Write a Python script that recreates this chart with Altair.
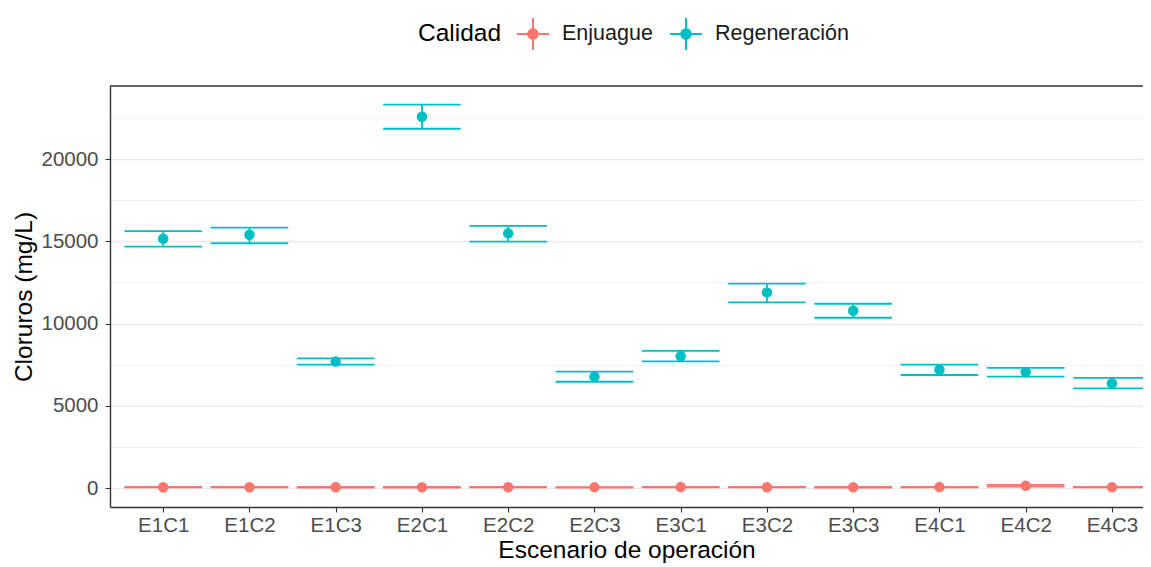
import altair as alt
import pandas as pd

escenarios = ["E1C1", "E1C2", "E1C3", "E2C1", "E2C2", "E2C3",
              "E3C1", "E3C2", "E3C3", "E4C1", "E4C2", "E4C3"]

reg_mean = [15150, 15400, 7690, 22570, 15480, 6770, 8010, 11890, 10780, 7190, 7050, 6360]
reg_low = [14670, 14880, 7500, 21840, 14980, 6460, 7700, 11290, 10350, 6870, 6770, 6060]
reg_high = [15620, 15830, 7880, 23300, 15930, 7070, 8330, 12420, 11200, 7500, 7300, 6690]

enj_mean = [50, 50, 45, 45, 50, 40, 55, 50, 45, 55, 140, 50]
enj_low = [35, 35, 30, 30, 35, 25, 40, 35, 30, 40, 90, 35]
enj_high = [65, 65, 60, 60, 65, 55, 70, 65, 60, 70, 190, 65]

calidades = ["Enjuague", "Regeneración"]
colores = ["#F8766D", "#00BFC4"]

y_ticks = [0, 2500, 5000, 7500, 10000, 12500, 15000, 17500, 20000, 22500]

rows = []
for i, e in enumerate(escenarios):
    rows.append({"Escenario": e, "Calidad": "Enjuague", "media": enj_mean[i],
                 "low": enj_low[i], "high": enj_high[i]})
    rows.append({"Escenario": e, "Calidad": "Regeneración", "media": reg_mean[i],
                 "low": reg_low[i], "high": reg_high[i]})
df = pd.DataFrame(rows)

FONT = "Liberation Sans"
W, H = 1033, 421
legend_symbol = ("M-1,-0.0625H1V0.0625H-1Z M-0.0625,-1H0.0625V1H-0.0625Z "
                 "M0.36,0A0.36,0.36,0,1,1,-0.36,0A0.36,0.36,0,1,1,0.36,0Z")

x_enc = alt.X("Escenario:N", sort=escenarios,
              scale=alt.Scale(type="point", padding=0.4884, align=0.6315),
              axis=alt.Axis(title="Escenario de operación", labelAngle=0,
                            domain=True, domainColor="#333333", domainWidth=1.4,
                            tickColor="#333333", tickSize=5,
                            tickWidth=1.1, labelPadding=3, titleY=50,
                            titleBaseline="alphabetic",
                            gridColor="#EBEBEB", gridWidth=1.4))
y_scale = alt.Scale(domain=[-1155, 24438], nice=False, zero=False)
color_enc = alt.Color("Calidad:N", scale=alt.Scale(domain=calidades, range=colores),
                      legend=alt.Legend(orient="none", legendX=308, legendY=-68,
                                        direction="horizontal", titleOrient="left",
                                        title="Calidad", symbolType=legend_symbol,
                                        symbolSize=1024, symbolStrokeWidth=0,
                                        symbolOpacity=1, labelOffset=13,
                                        columnPadding=17, titlePadding=15,
                                        titleFontSize=24.5, labelFontSize=21.5,
                                        titleFontWeight="normal",
                                        titleFont=FONT, labelFont=FONT,
                                        titleColor="#000000", labelColor="#1A1A1A",
                                        titleBaseline="middle", titleAnchor="middle"))

base = alt.Chart(df)

points = base.mark_point(filled=True, size=110, opacity=1).encode(
    x=x_enc,
    y=alt.Y("media:Q", scale=y_scale,
            axis=alt.Axis(title="Cloruros (mg/L)", values=y_ticks,
                          domain=True, domainColor="#333333", domainWidth=1.4,
                          labelExpr="datum.value % 5000 === 0 ? datum.label : ''",
                          format="d",
                          tickColor="#333333", tickSize=5,
                          tickWidth={"condition": {"test": "datum.value % 5000 === 0", "value": 1.1}, "value": 0},
                          gridColor={"condition": {"test": "datum.value % 5000 === 0", "value": "#EBEBEB"}, "value": "#F2F2F2"},
                          gridWidth={"condition": {"test": "datum.value % 5000 === 0", "value": 1.5}, "value": 1.2},
                          labelPadding=7, titlePadding=4)),
    color=color_enc,
)

whisker = base.mark_rule(strokeWidth=1.8).encode(
    x=alt.X("Escenario:N", sort=escenarios),
    y=alt.Y("low:Q"), y2="high:Q",
    color=alt.Color("Calidad:N"),
)

cap_low = base.mark_tick(size=77.6, thickness=1.8, opacity=1).encode(
    x=alt.X("Escenario:N", sort=escenarios),
    y=alt.Y("low:Q"),
    color=alt.Color("Calidad:N"),
)
cap_high = base.mark_tick(size=77.6, thickness=1.8, opacity=1).encode(
    x=alt.X("Escenario:N", sort=escenarios),
    y=alt.Y("high:Q"),
    color=alt.Color("Calidad:N"),
)

top_border = alt.Chart(pd.DataFrame({"b": [0]})).mark_rule(
    color="#333333", strokeWidth=1.4
).encode(y=alt.value(0), x=alt.value(0), x2=alt.value(W))

chart = alt.layer(points, whisker, cap_low, cap_high, top_border).properties(
    width=W, height=H,
    background="white",
    autosize=alt.AutoSizeParams(type="none"),
    padding={"left": 102, "top": 78, "right": 0, "bottom": 56},
).configure_view(
    stroke=None, fill="white"
).configure_axis(
    labelFont=FONT, titleFont=FONT, labelFontSize=20.5, titleFontSize=24.5,
    labelColor="#4D4D4D", titleColor="#000000", titleFontWeight="normal",
)

chart.save("out.html", embed_options={"renderer": "svg", "actions": False})
